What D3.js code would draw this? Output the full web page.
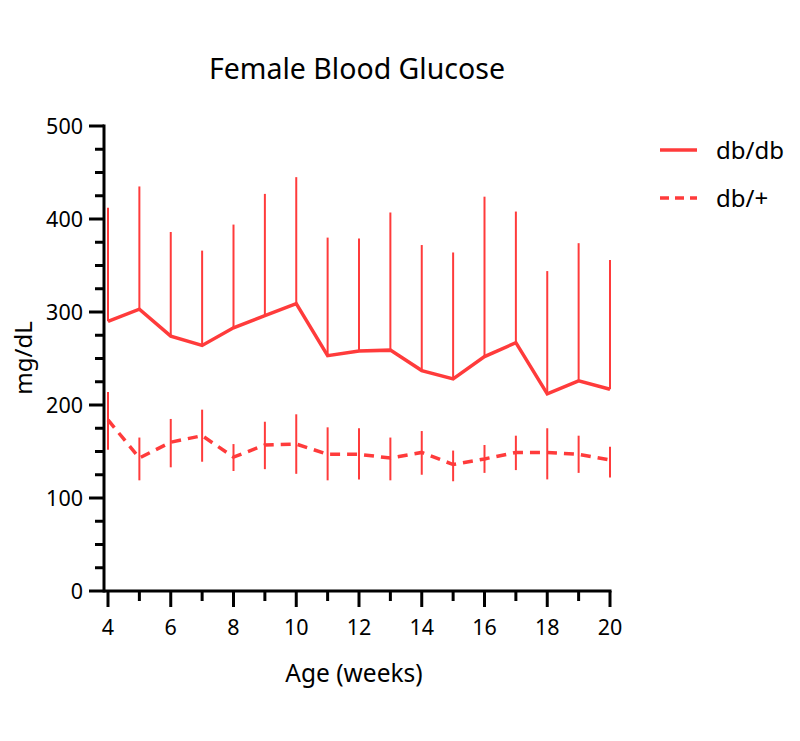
<!DOCTYPE html>
<html><head><meta charset="utf-8">
<script src="https://cdn.jsdelivr.net/npm/d3@7"></script>
<style>body{margin:0;background:#fff}svg{display:block}text{font-family:"Noto Sans",sans-serif;fill:#000}</style>
</head><body><svg id="c" width="800" height="741"></svg>
<script>
const weeks = [4,5,6,7,8,9,10,11,12,13,14,15,16,17,18,19,20];
const dbdbMean = [290,303,274,264,283,296,309,253,258,259,237,228,252,267,212,226,217];
const dbdbUpper = [412,435,386,366,394,427,445,380,379,407,372,364,424,408,344,374,356];
const dbplusMean = [184,143,160,167,144,157,158,147,147,143,149,136,142,149,149,147,141];
const dbplusUpper = [214,165,185,195,158,182,190,176,175,165,172,151,157,167,175,167,155];
const dbplusLower = [152,119,133,139,129,131,126,119,120,119,125,118,127,130,120,127,122];
const seriesNames = ["db/db","db/+"];
const xTicks = [4,6,8,10,12,14,16,18,20];
const yTicks = [0,100,200,300,400,500];

const red = "#ff3b3b";
const svg = d3.select("#c");
const x = d3.scaleLinear().domain([4,20]).range([108,610]);
const y = d3.scaleLinear().domain([0,500]).range([591,126]);

// y axis
const gy = svg.append("g").attr("transform","translate(104,0)");
gy.append("line").attr("x1",0).attr("x2",0).attr("y1",y(500)-1.5).attr("y2",y(0)+1.5).attr("stroke","#000").attr("stroke-width",3);
d3.range(0,501,25).forEach(v=>{
  const major = v%100===0;
  gy.append("line").attr("x1",major?-15:-9).attr("x2",0).attr("y1",y(v)).attr("y2",y(v)).attr("stroke","#000").attr("stroke-width",3);
});
yTicks.forEach(v=>{
  gy.append("text").attr("x",-21).attr("y",y(v)).attr("dy","0.35em").attr("text-anchor","end").style("font-size","21.5px").text(v);
});

// x axis
const gx = svg.append("g").attr("transform","translate(0,591)");
gx.append("line").attr("x1",104).attr("x2",x(20)+1.5).attr("y1",0).attr("y2",0).attr("stroke","#000").attr("stroke-width",3);
weeks.forEach(w=>{
  const major = w%2===0;
  gx.append("line").attr("x1",x(w)).attr("x2",x(w)).attr("y1",0).attr("y2",major?16:10).attr("stroke","#000").attr("stroke-width",3);
});
xTicks.forEach(w=>{
  gx.append("text").attr("x",x(w)).attr("y",44).attr("text-anchor","middle").style("font-size","21.5px").text(w);
});

// labels
svg.append("text").attr("x",357).attr("y",79).attr("text-anchor","middle").style("font-size","28.5px").text("Female Blood Glucose");
svg.append("text").attr("x",354).attr("y",682).attr("text-anchor","middle").style("font-size","24.5px").text("Age (weeks)");
svg.append("text").attr("transform","translate(32,358) rotate(-90)").attr("text-anchor","middle").style("font-size","24px").text("mg/dL");

// error bars
const gE = svg.append("g");
weeks.forEach((w,i)=>{
  gE.append("line").attr("x1",x(w)).attr("x2",x(w)).attr("y1",y(dbdbMean[i])).attr("y2",y(dbdbUpper[i])).attr("stroke",red).attr("stroke-width",2);
  gE.append("line").attr("x1",x(w)).attr("x2",x(w)).attr("y1",y(dbplusLower[i])).attr("y2",y(dbplusUpper[i])).attr("stroke",red).attr("stroke-width",2);
});

const line = d3.line().x(d=>x(d[0])).y(d=>y(d[1]));
svg.append("path").datum(weeks.map((w,i)=>[w,dbdbMean[i]])).attr("d",line).attr("fill","none").attr("stroke",red).attr("stroke-width",3.5);
svg.append("path").datum(weeks.map((w,i)=>[w,dbplusMean[i]])).attr("d",line).attr("fill","none").attr("stroke",red).attr("stroke-width",3.5).attr("stroke-dasharray","10,7");

// legend
const lg = svg.append("g");
[150,198].forEach((ly,i)=>{
  lg.append("line").attr("x1",660).attr("x2",697).attr("y1",ly).attr("y2",ly).attr("stroke",red).attr("stroke-width",3.5).attr("stroke-dasharray",i?"9,6":null);
  lg.append("text").attr("x",716).attr("y",ly+9).style("font-size","24px").text(seriesNames[i]);
});
</script></body></html>
